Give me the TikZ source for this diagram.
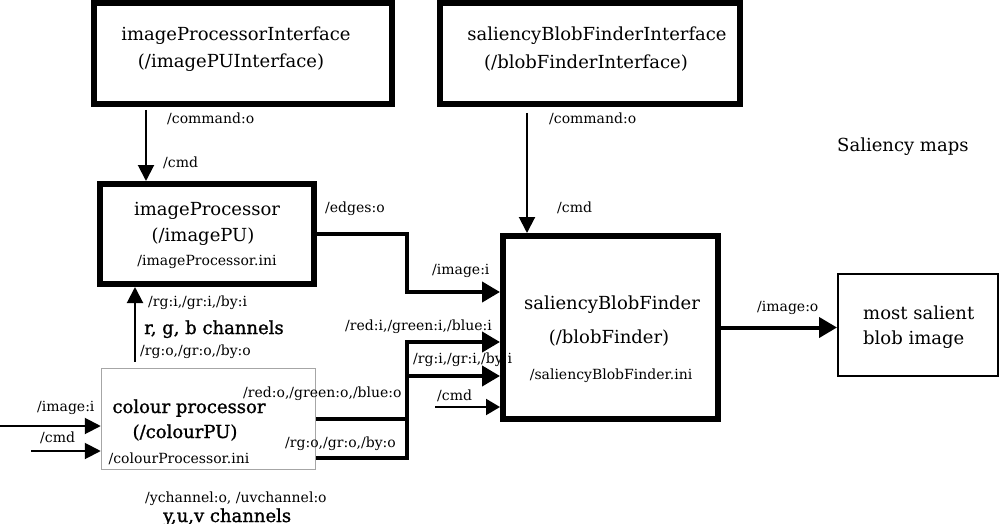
\documentclass[tikz,border=0pt]{standalone}
\usepackage{fontspec}
\setmainfont{DejaVu Serif}
\newfontfamily\semibold[FakeBold=1.2]{DejaVu Serif}
\usetikzlibrary{arrows.meta}
\begin{document}
\begin{tikzpicture}[x=1pt,y=-1pt,
  heavybox/.style={draw, line width=6pt, rectangle, inner sep=0pt},
  thinbox/.style={draw, line width=2pt, rectangle, inner sep=0pt},
  greybox/.style={draw=black!35, line width=1.5pt, rectangle, inner sep=0pt},
  big/.style={font=\fontsize{18}{21}\selectfont, inner sep=0pt, anchor=base},
  bigbold/.style={font=\semibold\fontsize{18}{21}\selectfont, inner sep=0pt, anchor=base},
  small/.style={font=\fontsize{14}{16}\selectfont, inner sep=0pt, anchor=base west},
  bigw/.style={font=\fontsize{18}{21}\selectfont, inner sep=0pt, anchor=base west},
  boldw/.style={font=\semibold\fontsize{18}{21}\selectfont, inner sep=0pt, anchor=base west},
  thinarr/.style={line width=2pt, -{Triangle[length=16pt,width=16pt]}},
  cmdarr/.style={line width=2pt, -{Triangle[length=14pt,width=16pt]}},
  thickarr/.style={line width=4pt, -{Triangle[length=18pt,width=20pt]}},
]
\useasboundingbox (0,0) rectangle (1000,524);

% boxes
\node[heavybox, minimum width=298pt, minimum height=101pt] (ipi) at (243,53.5) {};
\node[heavybox, minimum width=300pt, minimum height=101pt] (sbi) at (590,53.5) {};
\node[heavybox, minimum width=214pt, minimum height=100pt] (ip) at (207,234) {};
\node[heavybox, minimum width=215pt, minimum height=183pt] (sbf) at (610.5,327.5) {};
\node[thinbox, minimum width=160pt, minimum height=102pt] (msb) at (918,325) {};
\node[greybox, minimum width=214pt, minimum height=101pt] (cp) at (208.5,419) {};

% box texts
\node[big] (ipi1) at (236,41) {imageProcessorInterface};
\node[big] (ipi2) at (231,68) {(/imagePUInterface)};
\node[big] (sbi1) at (597,41) {saliencyBlobFinderInterface};
\node[big] (sbi2) at (586,69) {(/blobFinderInterface)};
\node[big] (ip1) at (207,215) {imageProcessor};
\node[big] (ip2) at (203,241) {(/imagePU)};
\node[small, anchor=base] (ip3) at (207,265) {/imageProcessor.ini};
\node[big] (sbf1) at (612,309) {saliencyBlobFinder};
\node[big] (sbf2) at (609,343) {(/blobFinder)};
\node[small, anchor=base] (sbf3) at (611,379) {/saliencyBlobFinder.ini};
\node[bigw] (msb1) at (863,319) {most salient};
\node[bigw] (msb2) at (863,344) {blob image};
\node[bigbold] (cp1) at (189,413) {colour processor};
\node[bigbold] (cp2) at (185,438) {(/colourPU)};
\node[small, anchor=base] (cp3) at (179,463) {/colourProcessor.ini};
\node[bigw] (sal) at (837,151) {Saliency maps};

% routing coordinates
\coordinate (xa) at (146,0);
\coordinate (xb) at (527,0);
\coordinate (xc) at (135,0);
\coordinate (xj) at (407,0);
\coordinate (yedge) at (0,292);
\coordinate (yred) at (0,342);
\coordinate (yrgi) at (0,376);
\coordinate (yrgo) at (0,458);
\coordinate (cmdfree) at (435,407);
\coordinate (imgfree) at (0,426);
\coordinate (cmdfree2) at (31,451);

% connectors
\draw[thinarr, shorten <=3pt] (ipi.south -| xa) -- (ip.north -| xa);
\draw[thinarr, shorten <=6pt] (sbi.south -| xb) -- (sbf.north -| xb);
\draw[thickarr] (ip.east) -| (xj |- yedge) -- (sbf.west |- yedge);
\draw[thickarr] (cp.east) -| (xj |- yred) -- (sbf.west |- yred);
\draw[thickarr] (cp.east |- yrgo) -| (xj |- yrgi) -- (sbf.west |- yrgi);
\draw[cmdarr] (cmdfree) -- (sbf.west |- cmdfree);
\draw[thinarr, shorten <=6pt] (cp.north -| xc) -- (ip.south -| xc);
\draw[thinarr] (imgfree) -- (cp.west |- imgfree);
\draw[thinarr] (cmdfree2) -- (cp.west |- cmdfree2);
\draw[thickarr] (sbf.east) -- (msb.west |- sbf.east);

% port labels
\node[small] (l1) at (167,124) {/command:o};
\node[small] (l2) at (163,167) {/cmd};
\node[small] (l3) at (549,123) {/command:o};
\node[small] (l4) at (557,212) {/cmd};
\node[small] (l5) at (325,212) {/edges:o};
\node[small] (l6) at (432,274) {/image:i};
\node[small] (l7) at (345,330) {/red:i,/green:i,/blue:i};
\node[small] (l8) at (413,363) {/rg:i,/gr:i,/by:i};
\node[small] (l9) at (437,400) {/cmd};
\node[small] (l10) at (757,311) {/image:o};
\node[small] (l11) at (148,306) {/rg:i,/gr:i,/by:i};
\node[boldw] (l12) at (144,334) {r, g, b channels};
\node[small] (l13) at (140,355) {/rg:o,/gr:o,/by:o};
\node[small] (l14) at (37,411) {/image:i};
\node[small] (l15) at (40,442) {/cmd};
\node[small] (l16) at (243,397) {/red:o,/green:o,/blue:o};
\node[small] (l17) at (285,447) {/rg:o,/gr:o,/by:o};
\node[small] (l18) at (145,502) {/ychannel:o, /uvchannel:o};
\node[boldw] (l19) at (163,522) {y,u,v channels};
\end{tikzpicture}
\end{document}
